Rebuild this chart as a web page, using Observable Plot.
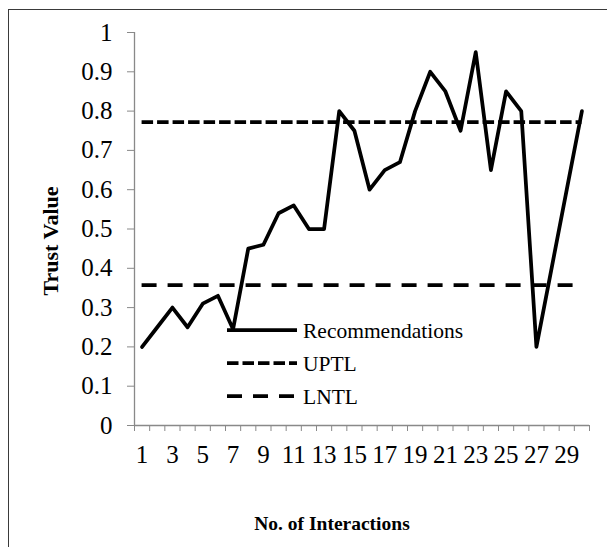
<!DOCTYPE html>
<html><head><meta charset="utf-8">
<script src="https://cdn.jsdelivr.net/npm/d3@7"></script>
<script src="https://cdn.jsdelivr.net/npm/@observablehq/plot@0.6"></script>
<style>
body{margin:0;background:#fff;}
#wrap{position:relative;width:607px;height:547px;overflow:hidden;font-family:"Liberation Serif",serif;}
#frame{position:absolute;left:8px;top:9px;width:800px;height:800px;border-left:1.5px solid #3a3a3a;border-top:1.5px solid #3a3a3a;box-sizing:border-box;}
#chart{position:absolute;left:0;top:0;}
#legend{position:absolute;left:0;top:0;}
</style></head><body>
<div id="wrap"><div id="frame"></div><div id="chart"></div><svg id="legend" width="607" height="547"></svg></div>
<script>
const interactions = [1,2,3,4,5,6,7,8,9,10,11,12,13,14,15,16,17,18,19,20,21,22,23,24,25,26,27,28,29,30];
const recommendations = [0.2,0.25,0.3,0.25,0.31,0.33,0.245,0.45,0.46,0.54,0.56,0.5,0.5,0.8,0.75,0.6,0.65,0.67,0.8,0.9,0.85,0.75,0.95,0.65,0.85,0.8,0.2,0.4,0.6,0.8];
const UPTL = 0.772;
const LNTL = 0.357;
const yTicks = [0,0.1,0.2,0.3,0.4,0.5,0.6,0.7,0.8,0.9,1];
const xTickLabels = [1,3,5,7,9,11,13,15,17,19,21,23,25,27,29];
const legendNames = ["Recommendations","UPTL","LNTL"];
const legendDash = ["none","11.5,4","15,11"];

const font = "Liberation Serif";
const axisGray = "#898989";
const lw = 3.75;
const tickFont = 25;
const boundaries = interactions.map(d => d - 0.5).concat([interactions[interactions.length-1] + 0.5]);

const chart = Plot.plot({
  width: 607, height: 547,
  marginLeft: 134, marginRight: 18, marginTop: 32, marginBottom: 122,
  style: {fontFamily: font, fontSize: tickFont + "px", background: "transparent", color: "black"},
  x: {type: "linear", domain: [0.5, 30.5]},
  y: {domain: [0, 1]},
  marks: [
    Plot.axisY(yTicks, {tickSize: 7, tickPadding: 15, stroke: axisGray, fill: "black", fontSize: tickFont, fontFamily: font, fontVariant: "normal", tickFormat: d => String(d), label: null}),
    Plot.axisX(boundaries, {tickSize: 6, stroke: axisGray, tickFormat: () => "", label: null}),
    Plot.axisX(xTickLabels, {tickSize: 0, tickPadding: 20, fill: "black", fontSize: tickFont, fontFamily: font, fontVariant: "normal", tickFormat: d => String(d), label: null}),
    Plot.ruleX([0.5], {y1: 0, y2: 1, stroke: axisGray, strokeWidth: 1.3}),
    Plot.ruleY([0], {x1: 0.5, x2: 30.5, stroke: axisGray, strokeWidth: 1.3}),
    Plot.ruleY([UPTL], {x1: interactions[0], x2: interactions[interactions.length-1], stroke: "black", strokeWidth: lw, strokeDasharray: legendDash[1]}),
    Plot.ruleY([LNTL], {x1: interactions[0], x2: interactions[interactions.length-1], stroke: "black", strokeWidth: lw, strokeDasharray: legendDash[2]}),
    Plot.line(interactions, {x: d => d, y: (d, i) => recommendations[i], stroke: "black", strokeWidth: lw, strokeLinejoin: "round", strokeLinecap: "round"}),
    Plot.text(["Trust Value"], {text: d => d, frameAnchor: "left", textAnchor: "middle", rotate: -90, dx: -84, dy: 12, fontWeight: "bold", fontSize: 22, fontFamily: font, lineAnchor: "middle"}),
    Plot.text(["No. of Interactions"], {text: d => d, frameAnchor: "bottom", textAnchor: "middle", dx: -30, dy: 98, fontWeight: "bold", fontSize: 19.5, fontFamily: font, lineAnchor: "middle"})
  ]
});
document.getElementById("chart").appendChild(chart);
chart.querySelectorAll("text").forEach(t => { t.setAttribute("font-family", font); t.style.fontFamily = "'Liberation Serif', serif"; });

// legend (drawn inside the plot area as in the reference)
const lg = d3.select("#legend");
const rowY = [330, 363, 396];
legendNames.forEach((name, i) => {
  lg.append("line").attr("x1", 227).attr("x2", 297).attr("y1", rowY[i]).attr("y2", rowY[i])
    .attr("stroke", "black").attr("stroke-width", lw)
    .attr("stroke-dasharray", legendDash[i] === "none" ? null : legendDash[i]);
  lg.append("text").attr("x", 303).attr("y", rowY[i]).attr("dy", "0.35em")
    .attr("font-family", font).attr("font-size", 21.5).attr("fill", "black").text(name);
});
</script>
</body></html>
